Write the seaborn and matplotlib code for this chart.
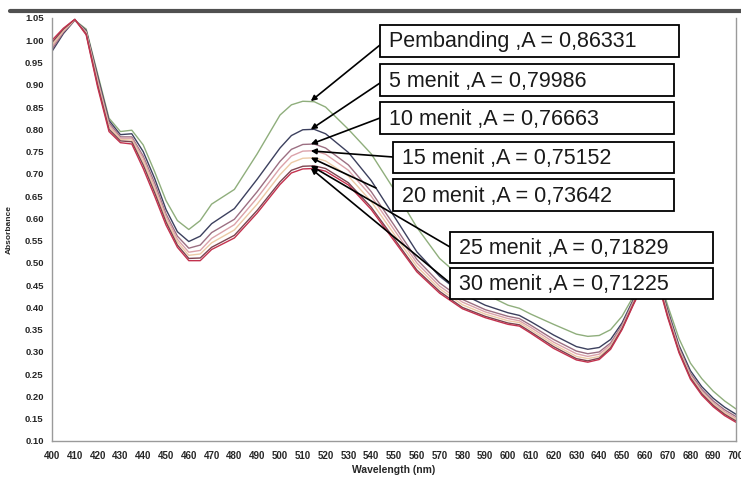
import matplotlib
matplotlib.use('Agg')
from matplotlib import pyplot as plt
from matplotlib.patches import Rectangle
from matplotlib.lines import Line2D
import seaborn as sns
import pandas as pd

# data
wavelength = [400, 405, 410, 415, 420, 425, 430, 435, 440, 445, 450, 455, 460, 465, 470,
              480, 490, 500, 505, 510, 515, 520, 530, 540, 550, 560, 570, 580, 590, 600,
              605, 610, 620, 630, 635, 640, 645, 650, 655, 660, 663, 666, 670, 675, 680,
              685, 690, 695, 700]

pembanding = [0.985, 1.020, 1.045, 1.025, 0.925, 0.825, 0.795, 0.798, 0.765, 0.705, 0.640, 0.595, 0.575, 0.595, 0.632,
              0.665, 0.745, 0.832, 0.855, 0.863, 0.862, 0.850, 0.800, 0.745, 0.665, 0.580, 0.510, 0.465, 0.430, 0.405,
              0.398, 0.385, 0.362, 0.340, 0.335, 0.337, 0.350, 0.380, 0.425, 0.470, 0.485, 0.470, 0.405, 0.330, 0.275,
              0.240, 0.212, 0.190, 0.172]
menit_5 = [0.975, 1.015, 1.045, 1.022, 0.920, 0.820, 0.788, 0.790, 0.750, 0.690, 0.620, 0.570, 0.548, 0.560, 0.588,
           0.622, 0.688, 0.758, 0.786, 0.799, 0.800, 0.790, 0.748, 0.685, 0.605, 0.525, 0.470, 0.430, 0.405, 0.388,
           0.382, 0.368, 0.338, 0.312, 0.306, 0.310, 0.328, 0.365, 0.418, 0.468, 0.482, 0.465, 0.395, 0.315, 0.258,
           0.222, 0.196, 0.176, 0.160]
menit_10 = [0.980, 1.018, 1.045, 1.020, 0.915, 0.815, 0.783, 0.783, 0.740, 0.680, 0.610, 0.560, 0.533, 0.540, 0.568,
            0.598, 0.660, 0.728, 0.755, 0.766, 0.767, 0.758, 0.720, 0.660, 0.585, 0.508, 0.455, 0.418, 0.395, 0.380,
            0.375, 0.360, 0.328, 0.302, 0.296, 0.300, 0.320, 0.360, 0.415, 0.466, 0.480, 0.462, 0.390, 0.310, 0.252,
            0.216, 0.190, 0.170, 0.155]
menit_15 = [0.985, 1.020, 1.046, 1.018, 0.910, 0.810, 0.780, 0.780, 0.735, 0.672, 0.605, 0.553, 0.524, 0.528, 0.555,
            0.586, 0.646, 0.713, 0.740, 0.751, 0.752, 0.744, 0.708, 0.650, 0.575, 0.500, 0.448, 0.412, 0.390, 0.375,
            0.370, 0.355, 0.322, 0.296, 0.290, 0.295, 0.316, 0.357, 0.412, 0.464, 0.478, 0.460, 0.387, 0.307, 0.248,
            0.212, 0.186, 0.166, 0.151]
menit_20 = [0.990, 1.022, 1.046, 1.016, 0.905, 0.805, 0.777, 0.776, 0.728, 0.665, 0.598, 0.547, 0.517, 0.520, 0.545,
            0.574, 0.632, 0.698, 0.725, 0.735, 0.736, 0.729, 0.695, 0.638, 0.565, 0.492, 0.442, 0.406, 0.385, 0.370,
            0.366, 0.350, 0.317, 0.290, 0.285, 0.290, 0.312, 0.354, 0.410, 0.462, 0.476, 0.458, 0.384, 0.304, 0.245,
            0.209, 0.183, 0.163, 0.148]
menit_25 = [0.995, 1.025, 1.047, 1.014, 0.900, 0.800, 0.774, 0.772, 0.720, 0.658, 0.592, 0.540, 0.510, 0.511, 0.535,
            0.562, 0.618, 0.682, 0.708, 0.717, 0.718, 0.712, 0.680, 0.625, 0.555, 0.484, 0.436, 0.400, 0.380, 0.365,
            0.361, 0.345, 0.312, 0.285, 0.280, 0.286, 0.309, 0.352, 0.408, 0.460, 0.474, 0.455, 0.381, 0.301, 0.242,
            0.206, 0.180, 0.160, 0.145]
menit_30 = [1.000, 1.027, 1.047, 1.012, 0.895, 0.795, 0.770, 0.767, 0.712, 0.650, 0.585, 0.535, 0.505, 0.505, 0.530,
            0.556, 0.612, 0.676, 0.702, 0.711, 0.712, 0.706, 0.675, 0.620, 0.550, 0.480, 0.432, 0.397, 0.377, 0.362,
            0.358, 0.342, 0.308, 0.282, 0.277, 0.283, 0.306, 0.350, 0.406, 0.458, 0.472, 0.452, 0.378, 0.298, 0.239,
            0.203, 0.177, 0.157, 0.142]

series_names = ['Pembanding', '5 menit', '10 menit', '15 menit', '20 menit', '25 menit', '30 menit']
series_values = [pembanding, menit_5, menit_10, menit_15, menit_20, menit_25, menit_30]
peak_abs = [0.86331, 0.79986, 0.76663, 0.75152, 0.73642, 0.71829, 0.71225]
peak_labels = ['Pembanding ,A = 0,86331', '5 menit ,A = 0,79986', '10 menit ,A = 0,76663',
               '15 menit ,A = 0,75152', '20 menit ,A = 0,73642', '25 menit ,A = 0,71829',
               '30 menit ,A = 0,71225']
peak_wl = 513.5

x_ticks = list(range(400, 701, 10))
y_ticks = [0.10, 0.15, 0.20, 0.25, 0.30, 0.35, 0.40, 0.45, 0.50, 0.55, 0.60, 0.65, 0.70,
           0.75, 0.80, 0.85, 0.90, 0.95, 1.00, 1.05]

colors = ['#8fae7c', '#3c405e', '#9c6f82', '#dba2aa', '#eccaa6', '#7d4450', '#c3324e']

rows = []
for name, vals in zip(series_names, series_values):
    for w, a in zip(wavelength, vals):
        rows.append({'wl': w, 'A': a, 'series': name})
df = pd.DataFrame(rows)

sns.set_style('white')
plt.rcParams['font.family'] = ['Liberation Sans', 'DejaVu Sans']

W, H = 741, 479
fig = plt.figure(figsize=(W / 100, H / 100), dpi=100)
ax = fig.add_axes([52 / W, (H - 441) / H, 684 / W, 423 / H])

sns.lineplot(data=df, x='wl', y='A', hue='series', hue_order=series_names,
             palette=colors, legend=False, linewidth=1.0, ax=ax)

ax.set_xlim(400, 700)
ax.set_ylim(0.10, 1.05)
ax.set_xticks(x_ticks)
ax.set_yticks(y_ticks)
ax.set_xticklabels([str(t) for t in x_ticks], fontsize=7, fontweight='bold')
ax.set_yticklabels(['%.2f' % t for t in y_ticks], fontsize=6.8, fontweight='bold')
ax.tick_params(axis='both', length=0)
ax.tick_params(axis='x', pad=7)
ax.tick_params(axis='y', pad=6)
ax.set_xlabel('Wavelength (nm)', fontsize=7.5, fontweight='bold', labelpad=3)
ax.set_ylabel('Absorbance', fontsize=6, fontweight='bold', labelpad=9)
for side in ['left', 'bottom', 'right']:
    ax.spines[side].set_color('#9a9a9a')
    ax.spines[side].set_linewidth(1.0)
ax.spines['top'].set_visible(False)

# thick frame line along the top of the picture
fig.add_artist(Line2D([10 / W, 1.0], [1 - 11 / H, 1 - 11 / H], transform=fig.transFigure,
                      color='#505050', lw=3))

# callout boxes (pixel layout from the reference)
boxes = [(380, 25, 299, 32), (380, 64, 294, 32), (380, 102, 294, 32), (393, 142, 281, 31),
         (393, 179, 281, 32), (450, 232, 263, 31), (450, 268, 263, 31)]
arrow_from = [(380, 45), (380, 83), (380, 118), (393, 157), (376, 188), (450, 247), (450, 283)]

for (bx, by, bw, bh), (sx, sy), lab, val in zip(boxes, arrow_from, peak_labels, peak_abs):
    ax.annotate('', xy=(peak_wl, val), xycoords='data',
                xytext=(sx, H - sy), textcoords='figure pixels',
                arrowprops=dict(arrowstyle='-|>', color='black', lw=1.2,
                                mutation_scale=8, shrinkA=0, shrinkB=0))
    fig.add_artist(Rectangle((bx / W, 1 - (by + bh) / H), bw / W, bh / H,
                             transform=fig.transFigure, facecolor='white',
                             edgecolor='black', lw=1.3, zorder=5))
    fig.text((bx + 9) / W, 1 - (by + bh / 2 + 1) / H, lab, fontsize=15.5,
             ha='left', va='center', color='#1a1a1a', zorder=6)

fig.savefig('out.png', dpi=100)
